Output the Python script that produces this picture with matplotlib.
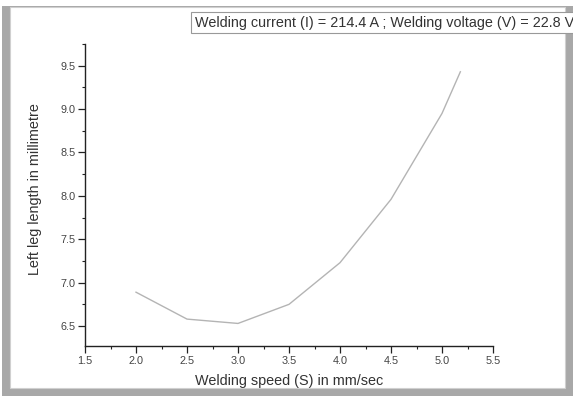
import matplotlib
matplotlib.use("Agg")
import matplotlib.pyplot as plt
from matplotlib.patches import Rectangle
from matplotlib.ticker import MultipleLocator

plt.rcParams['font.family'] = ['Liberation Sans', 'DejaVu Sans']

# data
speed = [2.0, 2.5, 3.0, 3.5, 4.0, 4.5, 5.0, 5.18]
left_leg = [6.89, 6.58, 6.53, 6.75, 7.23, 7.96, 8.95, 9.43]

title = "Welding current (I) = 214.4 A ; Welding voltage (V) = 22.8 V"
xlabel = "Welding speed (S) in mm/sec"
ylabel = "Left leg length in millimetre"

W, H = 573, 396
fig = plt.figure(figsize=(W / 100, H / 100), dpi=100)

# screenshot-like frame with shadow
fig.patches.append(Rectangle((2 / W, 1 - 396 / H), 571 / W, 390 / H,
                             transform=fig.transFigure, facecolor='#a8a8a8',
                             edgecolor='none', zorder=-10))
fig.patches.append(Rectangle((10 / W, 1 - 388 / H), 555 / W, 381 / H,
                             transform=fig.transFigure, facecolor='white',
                             edgecolor='#d0d0d0', linewidth=0.8, zorder=-9))

ax = fig.add_axes([85 / W, 50 / H, 408 / W, 302 / H])
ax.patch.set_alpha(0)
ax.plot(speed, left_leg, color='#b4b4b4', linewidth=1.0)

ax.set_xlim(1.5, 5.5)
ax.set_ylim(6.27, 9.75)
ax.xaxis.set_major_locator(MultipleLocator(0.5))
ax.xaxis.set_minor_locator(MultipleLocator(0.25))
ax.yaxis.set_major_locator(MultipleLocator(0.5))
ax.yaxis.set_minor_locator(MultipleLocator(0.25))
ax.set_yticks([6.5, 7.0, 7.5, 8.0, 8.5, 9.0, 9.5])

for side in ('top', 'right'):
    ax.spines[side].set_visible(False)
for side in ('left', 'bottom'):
    ax.spines[side].set_linewidth(1.0)
    ax.spines[side].set_color('#222222')

ax.tick_params(which='major', direction='out', length=5, width=0.9,
               labelsize=7.8, labelcolor='#444444', color='#222222', pad=2)
ax.tick_params(which='minor', direction='out', length=2.5, width=0.8,
               color='#222222')

ax.set_xlabel(xlabel, fontsize=10.4, color='#333333')
ax.xaxis.set_label_coords(0.5, -28 / 302)
ax.set_ylabel(ylabel, fontsize=10.4, color='#333333')
ax.yaxis.set_label_coords(-43 / 408, 0.52)

fig.text(195 / W, 1 - 22.5 / H, title, fontsize=10.4, color='#333333',
         va='center', ha='left',
         bbox=dict(boxstyle='square,pad=0.25', facecolor='white',
                   edgecolor='#999999', linewidth=0.8))

fig.savefig("out.png", dpi=100)
